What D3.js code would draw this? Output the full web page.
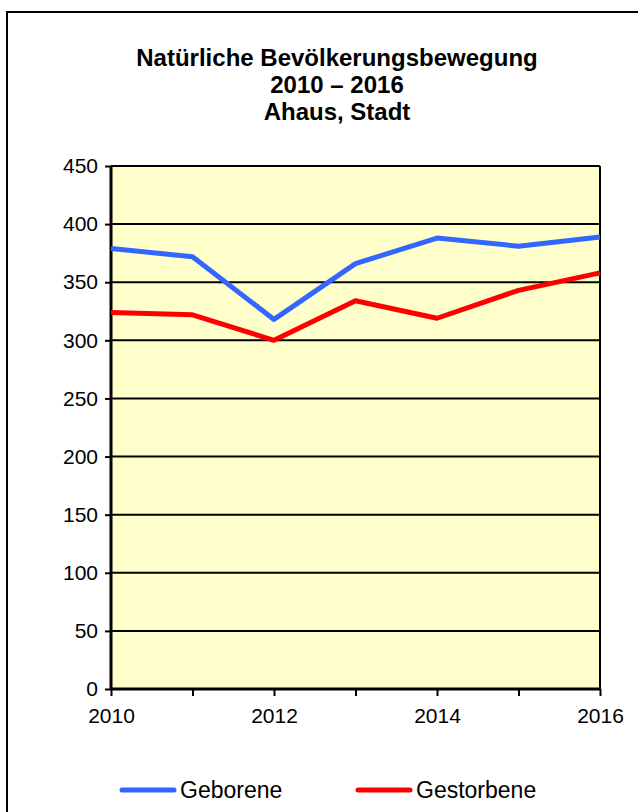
<!DOCTYPE html>
<html>
<head>
<meta charset="utf-8">
<script src="https://cdn.jsdelivr.net/npm/d3@7/dist/d3.min.js"></script>
<style>
  html, body { margin: 0; padding: 0; background: #fff; }
  svg { display: block; }
  text { font-family: "Liberation Sans", Arial, sans-serif; fill: #000; }
</style>
</head>
<body>
<svg id="chart" width="638" height="812"></svg>
<script>
// Natürliche Bevölkerungsbewegung, Ahaus (Stadt)
const years = [2010, 2011, 2012, 2013, 2014, 2015, 2016];
const geborene = [379, 372, 318, 366, 388, 381, 389];
const gestorbene = [324, 322, 300, 334, 319, 343, 358];
const yTicks = [0, 50, 100, 150, 200, 250, 300, 350, 400, 450];
const xLabels = [2010, 2012, 2014, 2016];
const titleLines = ["Natürliche Bevölkerungsbewegung", "2010 – 2016", "Ahaus, Stadt"];
const seriesNames = ["Geborene", "Gestorbene"];
const seriesColors = ["#3366ff", "#ff0000"];

const svg = d3.select("#chart");
const W = 638, H = 812;
const plot = { left: 111, right: 600, top: 166, bottom: 689 };

// outer frame (open to the right and bottom edges)
svg.append("path")
  .attr("d", `M7,${H} V12 H${W}`)
  .attr("fill", "none").attr("stroke", "#000").attr("stroke-width", 2);

// title
const title = svg.append("text")
  .attr("text-anchor", "middle")
  .attr("font-weight", "bold")
  .attr("font-size", 24);
titleLines.forEach((t, i) => {
  title.append("tspan").attr("x", 337).attr("y", 66 + i * 27).text(t);
});

const x = d3.scaleLinear().domain([2010, 2016]).range([plot.left, plot.right]);
const y = d3.scaleLinear().domain([0, 450]).range([plot.bottom, plot.top]);

// plot background
svg.append("rect")
  .attr("x", plot.left).attr("y", plot.top)
  .attr("width", plot.right - plot.left).attr("height", plot.bottom - plot.top)
  .attr("fill", "#ffffcc");

// horizontal gridlines
svg.append("g").selectAll("line")
  .data(yTicks.filter(v => v > 0))
  .join("line")
  .attr("x1", plot.left).attr("x2", plot.right)
  .attr("y1", d => y(d)).attr("y2", d => y(d))
  .attr("stroke", "#000").attr("stroke-width", 2);

// right border of plot area
svg.append("line")
  .attr("x1", plot.right).attr("x2", plot.right)
  .attr("y1", plot.top).attr("y2", plot.bottom)
  .attr("stroke", "#000").attr("stroke-width", 2);

// y axis
const yAxis = d3.axisLeft(y).tickValues(yTicks).tickSize(6).tickPadding(7);
const gy = svg.append("g").attr("transform", `translate(${plot.left},0)`).call(yAxis);
gy.select(".domain").attr("stroke", "#000").attr("stroke-width", 3).attr("d", `M0,${plot.top}V${plot.bottom}`);
gy.selectAll(".tick line").attr("stroke", "#000").attr("stroke-width", 2);
gy.selectAll(".tick text").attr("font-size", 21).attr("font-family", "Liberation Sans, Arial, sans-serif").attr("fill", "#000");

// x axis
const xAxis = d3.axisBottom(x).tickValues(years).tickSize(7).tickPadding(12)
  .tickFormat(d => xLabels.includes(d) ? String(d) : "");
const gx = svg.append("g").attr("transform", `translate(0,${plot.bottom})`).call(xAxis);
gx.select(".domain").attr("stroke", "#000").attr("stroke-width", 3).attr("d", `M${plot.left},0H${plot.right}`);
gx.selectAll(".tick line").attr("stroke", "#000").attr("stroke-width", 2);
gx.selectAll(".tick text").attr("font-size", 21).attr("font-family", "Liberation Sans, Arial, sans-serif").attr("fill", "#000");

// series lines
const line = d3.line().x((d, i) => x(years[i])).y(d => y(d));
[geborene, gestorbene].forEach((data, k) => {
  svg.append("path")
    .datum(data)
    .attr("d", line)
    .attr("fill", "none")
    .attr("stroke", seriesColors[k])
    .attr("stroke-width", 5)
    .attr("stroke-linejoin", "round");
});

// legend
const legendX = [122, 358];
seriesNames.forEach((name, k) => {
  const g = svg.append("g").attr("transform", `translate(${legendX[k]},790)`);
  g.append("line").attr("x1", 0).attr("x2", 52).attr("y1", 0).attr("y2", 0)
    .attr("stroke", seriesColors[k]).attr("stroke-width", 5).attr("stroke-linecap", "round");
  g.append("text").attr("x", 58).attr("y", 8).attr("font-size", 23).text(name);
});
</script>
</body>
</html>
